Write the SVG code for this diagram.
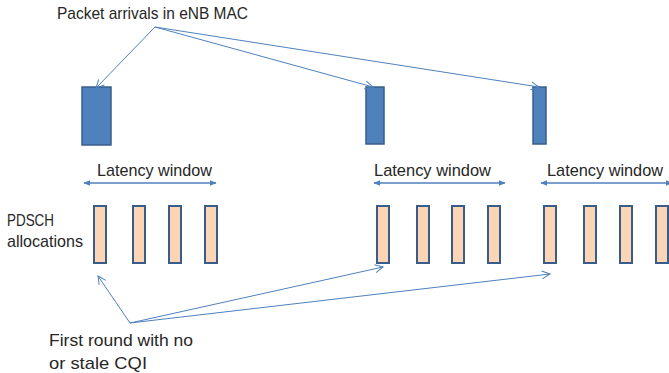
<svg xmlns="http://www.w3.org/2000/svg" width="669" height="373" viewBox="0 0 669 373">
<defs>
<style>
.t{font-family:"Liberation Sans",Arial,sans-serif;font-size:17px;fill:#262626}
.pkt{fill:#4f81bd;stroke:#385d8a;stroke-width:1.5}
.pd{fill:#fbd5b5;stroke:#385d8a;stroke-width:2}
.thin{stroke:#4f81bd;stroke-width:1;fill:none;marker-end:url(#open)}
.lw{stroke:#4f81bd;stroke-width:1.5;fill:none;marker-start:url(#fs);marker-end:url(#fe)}
</style>
<marker id="open" viewBox="0 0 10 10" refX="9" refY="5" markerWidth="10" markerHeight="10" markerUnits="userSpaceOnUse" orient="auto">
<path d="M1,1 L9,5 L1,9" fill="none" stroke="#4f81bd" stroke-width="1"/>
</marker>
<marker id="fe" viewBox="0 0 10 10" refX="9" refY="5" markerWidth="7" markerHeight="7" markerUnits="userSpaceOnUse" orient="auto">
<path d="M0,1 L10,5 L0,9 Z" fill="#4f81bd"/>
</marker>
<marker id="fs" viewBox="0 0 10 10" refX="1" refY="5" markerWidth="7" markerHeight="7" markerUnits="userSpaceOnUse" orient="auto">
<path d="M10,1 L0,5 L10,9 Z" fill="#4f81bd"/>
</marker>
</defs>
<g id="label-packet"><text class="t" x="57" y="19" textLength="191" lengthAdjust="spacingAndGlyphs">Packet arrivals in eNB MAC</text></g>
<g id="packet1"><rect class="pkt" x="82" y="87" width="29" height="58"/></g>
<g id="packet2"><rect class="pkt" x="366" y="87" width="18" height="57"/></g>
<g id="packet3"><rect class="pkt" x="533" y="87" width="13" height="57"/></g>
<g id="lw1"><text class="t" x="97" y="176" textLength="115" lengthAdjust="spacingAndGlyphs">Latency window</text></g>
<g id="lw2"><text class="t" x="374" y="176" textLength="117" lengthAdjust="spacingAndGlyphs">Latency window</text></g>
<g id="lw3"><text class="t" x="547" y="176" textLength="116" lengthAdjust="spacingAndGlyphs">Latency window</text></g>
<g id="label-pdsch"><text class="t" x="7" y="226" textLength="47" lengthAdjust="spacingAndGlyphs">PDSCH</text><text class="t" x="7" y="247" textLength="76" lengthAdjust="spacingAndGlyphs">allocations</text></g>
<g id="pdsch1">
<rect class="pd" x="94" y="206" width="12" height="57"/>
<rect class="pd" x="133" y="206" width="12" height="57"/>
<rect class="pd" x="169" y="206" width="12" height="57"/>
<rect class="pd" x="205" y="206" width="12" height="57"/>
</g>
<g id="pdsch2">
<rect class="pd" x="377" y="206" width="12" height="57"/>
<rect class="pd" x="417" y="206" width="12" height="57"/>
<rect class="pd" x="452" y="206" width="12" height="57"/>
<rect class="pd" x="488" y="206" width="12" height="57"/>
</g>
<g id="pdsch3">
<rect class="pd" x="544" y="206" width="12" height="57"/>
<rect class="pd" x="584" y="206" width="12" height="57"/>
<rect class="pd" x="620" y="206" width="12" height="57"/>
<rect class="pd" x="656" y="206" width="12" height="57"/>
</g>
<g id="label-first"><text class="t" x="49" y="346" textLength="144" lengthAdjust="spacingAndGlyphs">First round with no</text><text class="t" x="49" y="369" textLength="98" lengthAdjust="spacingAndGlyphs">or stale CQI</text></g>
<g id="connectors">
<line class="thin" x1="155" y1="27" x2="96" y2="88"/>
<line class="thin" x1="155" y1="27" x2="373" y2="87"/>
<line class="thin" x1="155" y1="27" x2="539" y2="87"/>
<line class="lw" x1="84" y1="183" x2="216" y2="183"/>
<line class="lw" x1="374" y1="183" x2="505" y2="183"/>
<line class="lw" x1="541" y1="183" x2="672" y2="183"/>
<line class="thin" x1="130" y1="323" x2="98" y2="276"/>
<line class="thin" x1="130" y1="323" x2="383" y2="267"/>
<line class="thin" x1="130" y1="323" x2="550" y2="274"/>
</g>
</svg>
